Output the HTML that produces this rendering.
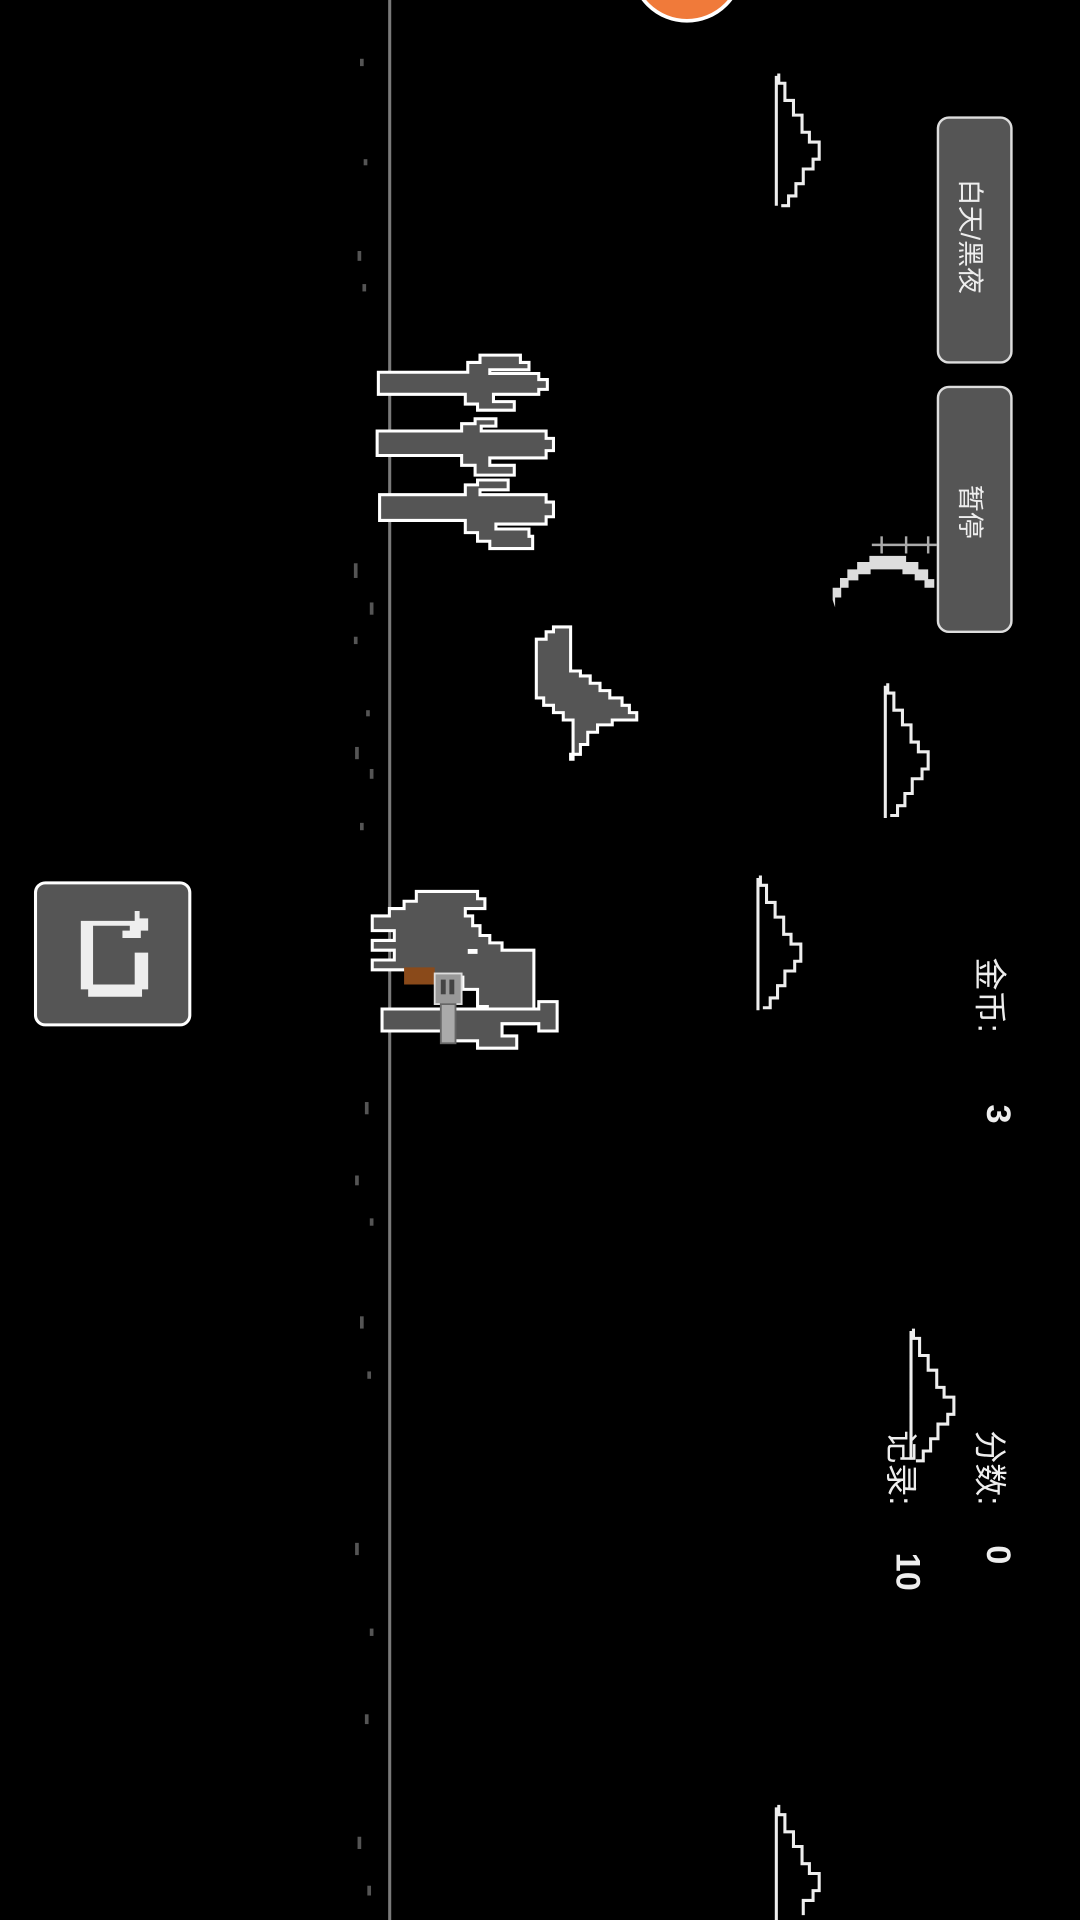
<!DOCTYPE html>
<html><head><meta charset="utf-8"><style>
html,body{margin:0;padding:0;background:#000;width:1080px;height:1920px;overflow:hidden}
svg{display:block}
text{font-family:"Liberation Sans","Noto Sans CJK SC",sans-serif;fill:#eee}
</style></head><body>
<svg width="1080" height="1920" viewBox="0 0 882 1568" xmlns="http://www.w3.org/2000/svg">
<rect width="882" height="1568" fill="#000"/>
<!-- ground -->
<rect x="317" y="0" width="2.5" height="1568" fill="#7a7a7a"/>
<g fill="#555">
<rect x="294" y="48" width="3" height="6"/><rect x="297" y="130" width="3" height="5"/><rect x="292" y="205" width="3" height="8"/><rect x="296" y="232" width="3" height="6"/>
<rect x="289" y="460" width="3" height="12"/><rect x="302" y="492" width="3" height="10"/><rect x="289" y="520" width="3" height="6"/><rect x="299" y="580" width="3" height="5"/>
<rect x="290" y="610" width="3" height="10"/><rect x="302" y="628" width="3" height="8"/><rect x="294" y="672" width="3" height="6"/><rect x="298" y="900" width="3" height="10"/>
<rect x="290" y="960" width="3" height="8"/><rect x="302" y="995" width="3" height="6"/><rect x="294" y="1075" width="3" height="10"/><rect x="300" y="1120" width="3" height="6"/>
<rect x="290" y="1260" width="3" height="10"/><rect x="302" y="1330" width="3" height="6"/><rect x="298" y="1400" width="3" height="8"/><rect x="292" y="1500" width="3" height="10"/><rect x="300" y="1540" width="3" height="8"/>
</g>
<!-- sun -->
<circle cx="561" cy="-28" r="45" fill="#f07a3a" stroke="#fff" stroke-width="3"/>
<!-- clouds -->
<g fill="none" stroke="#eee" stroke-width="2.5">
<path d="M634,62 V168 M636,60 v8 h5 v14 h7 v12 h7 v14 h6 v8 h8 v14 h-5 v8 h-8 v12 h-6 v10 h-6 v8 h-6"/>
<path d="M723,560 V668 M725,558 v8 h5 v14 h7 v12 h7 v14 h6 v8 h8 v14 h-5 v8 h-8 v12 h-6 v10 h-6 v8 h-6"/>
<path d="M619,717 V825 M621,715 v8 h5 v14 h7 v12 h7 v14 h6 v8 h8 v14 h-5 v8 h-8 v12 h-6 v10 h-6 v8 h-6"/>
<path d="M744,1087 V1192 M746,1085 v8 h5 v14 h7 v12 h7 v14 h6 v8 h8 v14 h-5 v8 h-8 v12 h-6 v10 h-6 v8 h-6"/>
<path d="M634,1476 V1568 M636,1474 v8 h5 v14 h7 v12 h7 v14 h6 v8 h8 v14 h-5 v8 h-8 v12"/>
</g>
<!-- moon -->
<path d="M680,490 v-10 h6 v-8 h6 v-7 h8 v-6 h10 v-5 h30 v5 h10 v6 h8 v8 h5 v7 h-8 v-6 h-8 v-5 h-10 v-4 h-26 v4 h-10 v5 h-8 v6 h-6 v8 h-5 v8 z" fill="#ddd"/>
<g stroke="#aaa" stroke-width="2"><line x1="712" y1="445" x2="765" y2="445"/><line x1="720" y1="438" x2="720" y2="452"/><line x1="740" y1="438" x2="740" y2="452"/><line x1="758" y1="438" x2="758" y2="452"/></g>
<!-- buttons -->
<rect x="766" y="96" width="60" height="200" rx="9" fill="#555" stroke="#ddd" stroke-width="2"/>
<rect x="766" y="316" width="60" height="200" rx="9" fill="#555" stroke="#ddd" stroke-width="2"/>
<text transform="translate(785,146) rotate(90)" font-size="22">白天/黑夜</text>
<text transform="translate(785,396) rotate(90)" font-size="22">暂停</text>
<!-- hud -->
<text transform="translate(799,782) rotate(90)" font-size="27">金币:</text>
<text transform="translate(806,902) rotate(90)" font-size="28" font-weight="bold" font-family="Liberation Mono">3</text>
<text transform="translate(799,1168) rotate(90)" font-size="27">分数:</text>
<text transform="translate(806,1262) rotate(90)" font-size="28" font-weight="bold" font-family="Liberation Mono">0</text>
<text transform="translate(727,1168) rotate(90)" font-size="27">记录:</text>
<text transform="translate(732,1268) rotate(90)" font-size="28" font-weight="bold" font-family="Liberation Mono">10</text>
<!-- cacti -->
<g fill="#555" stroke="#fff" stroke-width="2.5" stroke-linejoin="miter">
<path d="M309,304 H382 V296 H392 V290 H425 V296 H432 V302 H400 V305 H440 V310 H447 V318 H440 V322 H403 V328 H420 V335 H390 V330 H380 V322 H309 Z"/>
<path d="M308,352 H377 V346 H388 V342 H405 V348 H393 V352 H446 V358 H452 V368 H446 V374 H400 V380 H420 V388 H388 V380 H377 V372 H308 Z"/>
<path d="M310,404 H380 V396 H390 V392 H415 V400 H392 V404 H446 V410 H452 V422 H446 V428 H405 V432 H432 V438 H435 V448 H400 V442 H390 V435 H380 V425 H310 Z"/>
</g>
<!-- bird -->
<path d="M438,522 H446 V516 H452 V512 H466 V548 H474 V552 H482 V558 H490 V564 H498 V570 H508 V576 H514 V582 H520 V588 H500 V592 H488 V598 H480 V608 H474 V616 H466 V620 H468 V588 H460 V582 H452 V576 H444 V570 H438 Z" fill="#555" stroke="#fff" stroke-width="2.5"/>
<!-- dino -->
<g stroke="#fff" stroke-width="2.5">
<path d="M304,748 H318 V742 H330 V736 H340 V728 H390 V734 H396 V742 H380 V748 H386 V756 H392 V764 H400 V770 H410 V776 H436 V836 H410 V830 H398 V822 H390 V808 H378 V798 H340 V792 H304 V784 H322 V776 H304 V768 H322 V760 H304 Z" fill="#555"/>
<path d="M312,824 H440 V818 H455 V842 H440 V836 H410 V846 H422 V856 H390 V850 H362 V842 H312 Z" fill="#555"/>
</g>
<rect x="382" y="775" width="8" height="4" fill="#fff"/>
<path d="M330,790 h25 v6 h6 v8 h-31 z" fill="#8a4a1a"/>
<rect x="355" y="795" width="22" height="25" fill="#999" stroke="#ddd" stroke-width="1.5"/>
<rect x="360" y="800" width="4" height="12" fill="#444"/><rect x="367" y="800" width="4" height="12" fill="#444"/>
<rect x="360" y="820" width="12" height="32" fill="#aaa" stroke="#666" stroke-width="1.5"/>
<!-- restart -->
<rect x="29" y="721" width="126" height="116" rx="8" fill="#555" stroke="#fff" stroke-width="2.5"/>
<path d="M66,752 H110 V744 H114 V750 H121 V760 H115 V766 H100 V760 H106 V756 H76 V804 H110 V778 H121 V808 H116 V814 H72 V808 H66 Z" fill="#eee"/>
</svg>
</body></html>
